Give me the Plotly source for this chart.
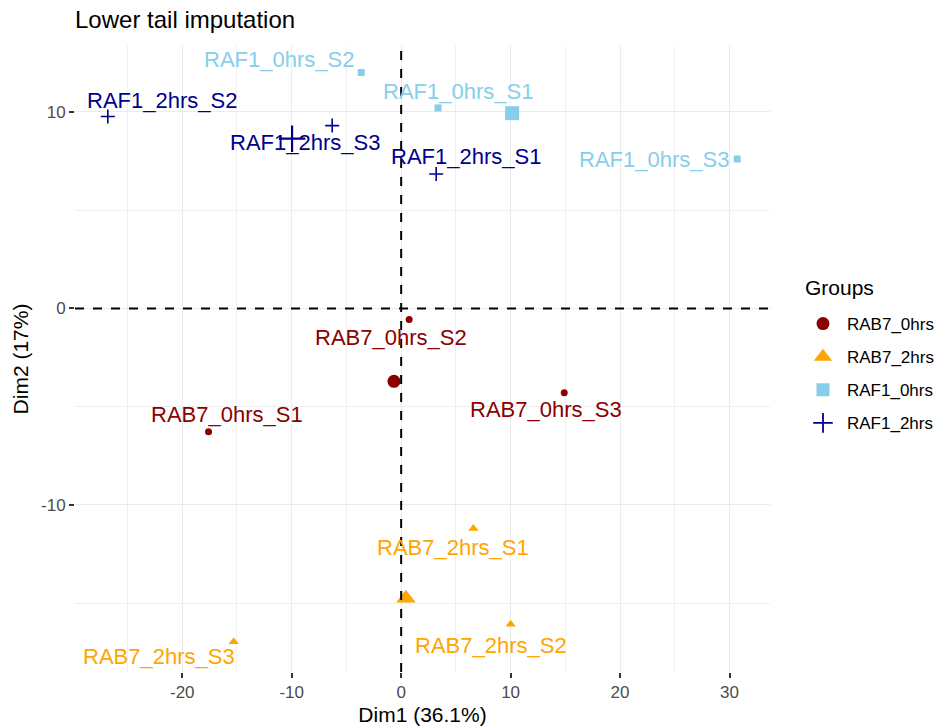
import numpy as np
import plotly.graph_objects as go

# PCA individuals: coordinates on the first two dimensions
groups = ["RAB7_0hrs", "RAB7_2hrs", "RAF1_0hrs", "RAF1_2hrs"]
samples = {
    "RAB7_0hrs": ["RAB7_0hrs_S1", "RAB7_0hrs_S2", "RAB7_0hrs_S3"],
    "RAB7_2hrs": ["RAB7_2hrs_S1", "RAB7_2hrs_S2", "RAB7_2hrs_S3"],
    "RAF1_0hrs": ["RAF1_0hrs_S1", "RAF1_0hrs_S2", "RAF1_0hrs_S3"],
    "RAF1_2hrs": ["RAF1_2hrs_S1", "RAF1_2hrs_S2", "RAF1_2hrs_S3"],
}
dim1 = {
    "RAB7_0hrs": [-17.6, 0.73, 14.9],
    "RAB7_2hrs": [6.6, 10.0, -15.3],
    "RAF1_0hrs": [3.37, -3.65, 30.7],
    "RAF1_2hrs": [3.2, -26.8, -6.3],
}
dim2 = {
    "RAB7_0hrs": [-6.28, -0.56, -4.29],
    "RAB7_2hrs": [-11.2, -16.07, -16.96],
    "RAF1_0hrs": [10.2, 12.0, 7.6],
    "RAF1_2hrs": [6.84, 9.76, 9.3],
}
x_ticks = [-20, -10, 0, 10, 20, 30]
x_tick_labels = ["-20", "-10", "0", "10", "20", "30"]
y_ticks = [-10, 0, 10]
y_tick_labels = ["-10", "0", "10"]

# styling per group
colors = {"RAB7_0hrs": "#8B0000", "RAB7_2hrs": "#FFA500",
          "RAF1_0hrs": "#87CEEB", "RAF1_2hrs": "#00008B"}
symbols = {"RAB7_0hrs": "circle", "RAB7_2hrs": "triangle-up",
           "RAF1_0hrs": "square", "RAF1_2hrs": "cross-thin"}
pt_size = {"RAB7_0hrs": 7, "RAB7_2hrs": 9, "RAF1_0hrs": 7, "RAF1_2hrs": 10}
mean_size = {"RAB7_0hrs": 13, "RAB7_2hrs": 17, "RAF1_0hrs": 14, "RAF1_2hrs": 19}
leg_size = {"RAB7_0hrs": 13, "RAB7_2hrs": 16, "RAF1_0hrs": 13, "RAF1_2hrs": 14}

# repelled label offsets in pixels (right, up)
label_shift = {
    "RAB7_0hrs_S1": (18, 17), "RAB7_0hrs_S2": (-18, -18), "RAB7_0hrs_S3": (-18, -17),
    "RAB7_2hrs_S1": (-20, -19), "RAB7_2hrs_S2": (-20, -21), "RAB7_2hrs_S3": (-75, -15),
    "RAF1_0hrs_S1": (20, 16), "RAF1_0hrs_S2": (-82, 13), "RAF1_0hrs_S3": (-83, 0),
    "RAF1_2hrs_S1": (30, 17), "RAF1_2hrs_S2": (54, 16), "RAF1_2hrs_S3": (-27, -17),
}

FONT = "Liberation Sans, Arial, sans-serif"
W, H = 940, 726
M = dict(l=75, r=170, t=46, b=54, autoexpand=False)
PW, PH = W - M["l"] - M["r"], H - M["t"] - M["b"]

fig = go.Figure()
annotations = []

for g in groups:
    c = colors[g]
    line = dict(color=c, width=1.6) if symbols[g] == "cross-thin" else dict(width=0)
    xs, ys = dim1[g], dim2[g]
    fig.add_trace(go.Scatter(
        x=xs, y=ys, mode="markers", showlegend=False, hoverinfo="skip",
        marker=dict(symbol=symbols[g], size=pt_size[g], color=c, line=line)))
    # group centre (mean point)
    mline = dict(color=c, width=2.2) if symbols[g] == "cross-thin" else dict(width=0)
    fig.add_trace(go.Scatter(
        x=[np.mean(xs)], y=[np.mean(ys)], mode="markers", showlegend=False,
        hoverinfo="skip",
        marker=dict(symbol=symbols[g], size=mean_size[g], color=c, line=mline)))
    # legend entry
    lline = dict(color=c, width=1.8) if symbols[g] == "cross-thin" else dict(width=0)
    fig.add_trace(go.Scatter(
        x=[None], y=[None], mode="markers", name=g, legendgroup=g,
        marker=dict(symbol=symbols[g], size=leg_size[g], color=c, line=lline)))
    for name, xv, yv in zip(samples[g], xs, ys):
        dx, dy = label_shift[name]
        annotations.append(dict(
            x=xv, y=yv, xref="x", yref="y", text=name, showarrow=False,
            xanchor="center", yanchor="middle", xshift=dx, yshift=dy,
            font=dict(family=FONT, size=22, color=c)))

# legend heading
annotations.append(dict(
    x=(803 - M["l"]) / PW, y=(H - M["b"] - 287) / PH, xref="paper", yref="paper",
    text="Groups", showarrow=False, xanchor="left", yanchor="middle",
    font=dict(family=FONT, size=21, color="black")))

# dashed reference lines through the origin
shapes = [
    dict(type="line", xref="x", yref="paper", x0=0, x1=0, y0=0, y1=1,
         line=dict(color="black", width=2, dash="dash"), layer="above"),
    dict(type="line", xref="paper", yref="y", x0=0, x1=1, y0=0, y1=0,
         line=dict(color="black", width=2, dash="dash"), layer="above"),
]

axis_common = dict(
    showline=False, zeroline=False, showgrid=True, gridcolor="#EBEBEB", gridwidth=1.3,
    ticks="outside", ticklen=5, tickwidth=1.5, tickcolor="#333333", automargin=False,
    tickfont=dict(family=FONT, size=17, color="#4D4D4D"),
    minor=dict(dtick=5, tick0=0, showgrid=True, gridcolor="#EFEFEF", gridwidth=0.7),
)

fig.update_layout(
    width=W, height=H,
    margin=M,
    paper_bgcolor="white", plot_bgcolor="white",
    font=dict(family=FONT),
    title=dict(text="Lower tail imputation", x=75 / W, xanchor="left",
               y=1 - 20 / H, yanchor="middle",
               font=dict(family=FONT, size=24, color="black")),
    xaxis=dict(range=[-29.8, 33.7], tickvals=x_ticks, ticktext=x_tick_labels,
               title=dict(text="Dim1 (36.1%)", standoff=6,
                          font=dict(family=FONT, size=21, color="black")),
               **axis_common),
    yaxis=dict(range=[-18.5, 13.35], tickvals=y_ticks, ticktext=y_tick_labels,
               title=dict(text="Dim2 (17%)", standoff=6,
                          font=dict(family=FONT, size=21, color="black")),
               **axis_common),
    legend=dict(x=(799 - M["l"]) / PW, y=(H - M["b"] - 306) / PH,
                xanchor="left", yanchor="top",
                font=dict(family=FONT, size=17, color="black"),
                tracegroupgap=8, itemwidth=38, bgcolor="rgba(0,0,0,0)"),
    shapes=shapes,
    annotations=annotations,
)

fig.write_html("out.html")
